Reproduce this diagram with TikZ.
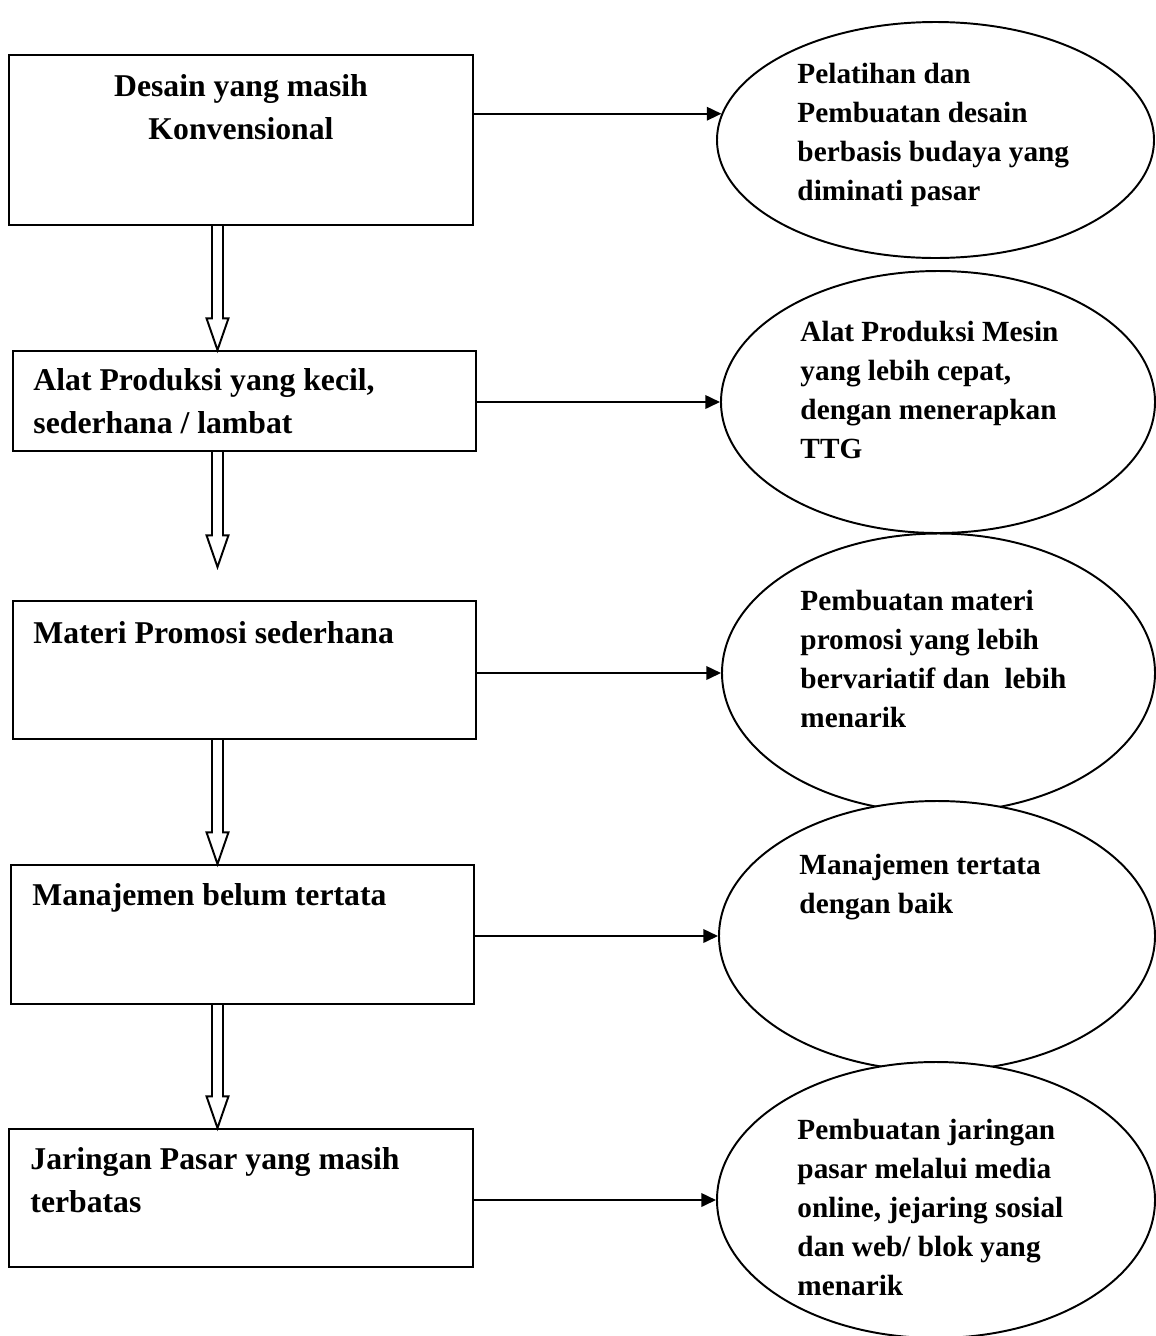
\documentclass[tikz,border=0pt]{standalone}
\usepackage{fontspec}
\setmainfont{Liberation Serif}
\usetikzlibrary{shapes.geometric,arrows.meta,fit,positioning,calc}
\newdimen\pxu
\pxu=0.41pt
\tikzset
{
	probbox/.style = {rectangle, draw=black, line width=0.8pt, inner sep=0pt},
	solnode/.style = {ellipse, draw=black, fill=white, line width=0.8pt, inner sep=0pt},
	probtext/.style = {align=left, inner sep=0pt, font=\fontsize{13}{17.4}\selectfont\bfseries},
	soltext/.style  = {align=left, inner sep=0pt, font=\fontsize{12}{15.9}\selectfont\bfseries},
	flow/.style     = {draw=black, line width=0.9pt, -{Triangle[length=6pt,width=5.5pt]}},
	hollow/.style   = {draw=black, line width=0.8pt, line join=miter}
}
\newcommand{\hollowarrow}[2]{%
	\path[hollow] let \p1=(#1), \p2=(#2) in
		(\x2-2.25pt,\y1) -- (\x2-2.25pt,\y2+13pt) -- (\x2-4.5pt,\y2+13pt) -- (\x2,\y2)
		-- (\x2+4.5pt,\y2+13pt) -- (\x2+2.25pt,\y2+13pt) -- (\x2+2.25pt,\y1);
}

\begin{document}
\begin{tikzpicture}[x=\pxu, y=-\pxu]
\useasboundingbox (0,0) rectangle (1156,1336);

% problems
\node[probbox, fit={(9,55) (473,225)}] (b1) {};
\node[probbox, fit={(13,351) (476,451)}] (b2) {};
\node[probbox, fit={(13,601) (476,739)}] (b3) {};
\node[probbox, fit={(11,865) (474,1004)}] (b4) {};
\node[probbox, fit={(9,1129) (473,1267)}] (b5) {};

% base = baseline of the last line
\node[probtext, align=center, anchor=base] (t1) at (241,139) {Desain yang masih\\Konvensional};
\node[probtext, anchor=base west] (t2) at (33,433) {Alat Produksi yang kecil,\\sederhana / lambat};
\node[probtext, anchor=base west] (t3) at (33,643) {Materi Promosi sederhana};
\node[probtext, anchor=base west] (t4) at (32,905) {Manajemen belum tertata};
\node[probtext, anchor=base west] (t5) at (30,1212) {Jaringan Pasar yang masih\\terbatas};

% solutions
\node[solnode, minimum width=437\pxu, minimum height=236\pxu] (e1) at (935.5,140) {};
\node[soltext, anchor=base west] (s1) at (797,200) {Pelatihan dan\\Pembuatan desain\\berbasis budaya yang\\diminati pasar};
\node[solnode, minimum width=434\pxu, minimum height=262\pxu] (e2) at (938,402) {};
\node[soltext, anchor=base west] (s2) at (800,458) {Alat Produksi Mesin\\yang lebih cepat,\\dengan menerapkan\\TTG};
\node[solnode, minimum width=433\pxu, minimum height=279\pxu] (e3) at (938.5,673) {};
\node[soltext, anchor=base west] (s3) at (800,727) {Pembuatan materi\\promosi yang lebih\\bervariatif dan~ lebih\\menarik};
\node[solnode, minimum width=436\pxu, minimum height=270\pxu] (e4) at (937,936) {};
\node[soltext, anchor=base west] (s4) at (799,913) {Manajemen tertata\\dengan baik};
\node[solnode, minimum width=438\pxu, minimum height=276\pxu] (e5) at (936,1200) {};
\node[soltext, anchor=base west] (s5) at (797,1295) {Pembuatan jaringan\\pasar melalui media\\online, jejaring sosial\\dan web/ blok yang\\menarik};

% arrows
\draw[flow] (b1.east |- e1.173) -- (e1.173);
\draw[flow] (b2.east |- e2.west) -- (e2.west);
\draw[flow] (b3.east |- e3.west) -- (e3.west);
\draw[flow] (b4.east |- e4.west) -- (e4.west);
\draw[flow] (b5.east |- e5.west) -- (e5.west);

\coordinate (col) at (217.5,0);
\coordinate (h2) at (217.5,567);
\hollowarrow{b1.south -| col}{b2.north -| col}
\hollowarrow{b2.south -| col}{h2}
\hollowarrow{b3.south -| col}{b4.north -| col}
\hollowarrow{b4.south -| col}{b5.north -| col}
\end{tikzpicture}
\end{document}
